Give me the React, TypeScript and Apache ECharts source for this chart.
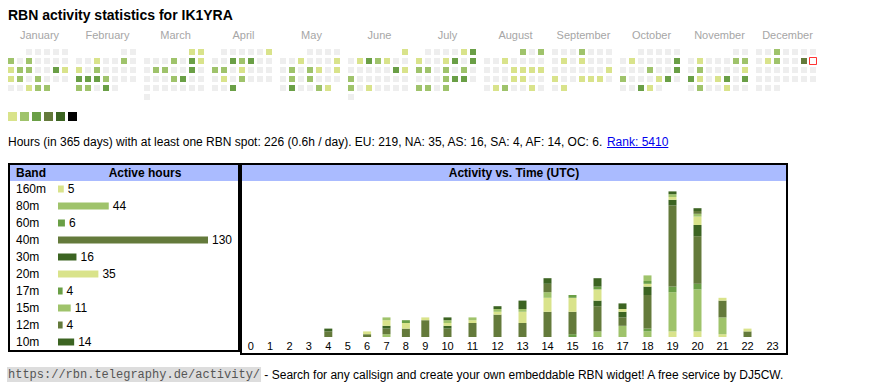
import { useEffect, useRef } from 'react';
import * as echarts from 'echarts';

const YEAR = 2025;
const TODAY = '2025-12-14';
const monthNames = ['January', 'February', 'March', 'April', 'May', 'June', 'July', 'August', 'September', 'October', 'November', 'December'];
const levelColors = ['#d9e38b', '#9fc36b', '#6a9f46', '#647a3b', '#3c6422', '#000000'];

// activity level per day (0 = none)
const jan = [0, 0, 0, 0, 0, 2, 0, 2, 0, 0, 0, 0, 1, 2, 2, 0, 0, 3, 1, 1, 2, 0, 2, 0, 0, 0, 0, 0, 1, 2, 2];
const feb = [0, 0, 0, 0, 1, 0, 0, 2, 0, 1, 0, 2, 0, 0, 0, 0, 3, 3, 3, 2, 0, 0, 0, 2, 2, 0, 3, 0];
const mar = [1, 1, 0, 0, 0, 2, 0, 3, 1, 0, 2, 2, 0, 0, 3, 0, 0, 0, 0, 2, 3, 0, 0, 0, 0, 0, 0, 0, 0, 0, 0];
const apr = [0, 0, 0, 0, 0, 1, 0, 0, 3, 2, 3, 0, 0, 2, 2, 0, 1, 0, 0, 0, 0, 1, 0, 2, 0, 0, 0, 0, 0, 3];
const may = [0, 0, 0, 0, 0, 0, 1, 0, 0, 0, 1, 0, 2, 0, 2, 1, 0, 1, 0, 2, 0, 2, 0, 0, 0, 0, 3, 0, 0, 2, 1];
const jun = [1, 0, 1, 3, 2, 1, 0, 0, 0, 0, 0, 0, 0, 3, 1, 2, 0, 0, 0, 0, 0, 0, 2, 0, 1, 0, 0, 0, 0, 0];
const jul = [0, 0, 0, 0, 1, 3, 1, 0, 0, 1, 3, 0, 3, 2, 2, 0, 2, 0, 2, 0, 0, 0, 0, 2, 3, 3, 0, 2, 2, 0, 2];
const aug = [2, 0, 2, 0, 0, 1, 0, 0, 0, 0, 0, 0, 0, 1, 1, 1, 1, 0, 0, 0, 1, 1, 0, 0, 0, 1, 2, 0, 0, 1, 0];
const sep = [0, 0, 0, 2, 0, 0, 0, 0, 1, 0, 1, 0, 0, 0, 0, 0, 0, 0, 0, 0, 1, 1, 0, 0, 1, 1, 1, 0, 0, 1];
const oct = [0, 0, 0, 0, 0, 0, 1, 0, 0, 0, 0, 3, 0, 0, 0, 2, 0, 0, 3, 2, 0, 0, 0, 1, 3, 0, 0, 0, 3, 1, 0];
const nov = [0, 0, 0, 1, 0, 0, 0, 2, 2, 0, 2, 0, 0, 0, 0, 1, 3, 1, 0, 1, 3, 0, 3, 0, 2, 0, 0, 1, 0, 0];
const dec = [0, 0, 2, 0, 0, 0, 0, 0, 1, 2, 0, 0, 4, 0, 0, 0, 0, 0, 0, 0, 0, 0, 0, 0, 0, 0, 0, 0, 0, 0, 0];
const months = [jan, feb, mar, apr, may, jun, jul, aug, sep, oct, nov, dec];

const bands = ['160m', '80m', '60m', '40m', '30m', '20m', '17m', '15m', '12m', '10m'];
const bandHours = [5, 44, 6, 130, 16, 35, 4, 11, 4, 14];
const bandColors = ['#d9e38b', '#9fc36b', '#6a9f46', '#647a3b', '#3c6422', '#d9e38b', '#6a9f46', '#9fc36b', '#647a3b', '#3c6422'];

const hourLabels = ['0', '1', '2', '3', '4', '5', '6', '7', '8', '9', '10', '11', '12', '13', '14', '15', '16', '17', '18', '19', '20', '21', '22', '23'];
const act160m = [0, 0, 0, 0, 0, 0, 0, 0, 0, 0, 0, 0, 0, 0, 0, 0, 0, 0, 0, 2, 2, 1, 0, 0];
const act80m = [0, 0, 0, 0, 0, 0, 0, 1, 0, 0, 0, 0, 0, 0, 0, 0, 2, 4, 2, 14, 15, 6, 0, 0];
const act60m = [0, 0, 0, 0, 0, 0, 0, 0, 0, 0, 0, 0, 0, 0, 0, 1, 0, 0, 1, 2, 2, 0, 0, 0];
const act40m = [0, 0, 0, 0, 2, 0, 1, 2, 3, 6, 3, 5, 8, 5, 9, 8, 9, 3, 12, 29, 17, 6, 2, 0];
const act30m = [0, 0, 0, 0, 1, 0, 0, 1, 0, 0, 1, 0, 0, 0, 0, 0, 2, 2, 3, 2, 4, 0, 0, 0];
const act20m = [0, 0, 0, 0, 0, 0, 1, 2, 2, 1, 1, 1, 1, 4, 5, 5, 4, 1, 1, 1, 3, 1, 1, 0];
const act17m = [0, 0, 0, 0, 0, 0, 0, 0, 1, 0, 0, 0, 0, 0, 0, 1, 1, 0, 1, 0, 0, 0, 0, 0];
const act15m = [0, 0, 0, 0, 0, 0, 0, 1, 0, 0, 1, 1, 1, 1, 2, 0, 0, 0, 2, 1, 1, 0, 0, 0];
const act12m = [0, 0, 0, 0, 0, 0, 0, 0, 0, 0, 0, 0, 0, 0, 3, 0, 0, 0, 0, 0, 1, 0, 0, 0];
const act10m = [0, 0, 0, 0, 0, 0, 0, 0, 0, 0, 1, 0, 1, 3, 2, 0, 3, 2, 0, 1, 1, 0, 0, 0];
const activity = [act160m, act80m, act60m, act40m, act30m, act20m, act17m, act15m, act12m, act10m];

const summaryText = 'Hours (in 365 days) with at least one RBN spot: 226 (0.6h / day). EU: 219, NA: 35, AS: 16, SA: 4, AF: 14, OC: 6. ';
const rankText = 'Rank: 5410';
const footerUrl = 'https://rbn.telegraphy.de/activity/';
const footerText = ' - Search for any callsign and create your own embeddable RBN widget! A free service by DJ5CW.';

const FONT = '"Liberation Sans", Arial, Helvetica, sans-serif';
const MONO = '"Liberation Mono", "DejaVu Sans Mono", monospace';

const pad = (n: number) => (n < 10 ? '0' + n : '' + n);

function measure(text: string, font: string): number {
  const ctx = document.createElement('canvas').getContext('2d');
  if (!ctx) return text.length * 6;
  ctx.font = font;
  return ctx.measureText(text).width;
}

function txt(text: string, x: number, y: number, opts: any = {}) {
  return {
    type: 'text',
    x,
    y,
    z: opts.z ?? 10,
    silent: true,
    style: {
      text,
      fill: opts.fill ?? '#000',
      fontSize: opts.fontSize ?? 12,
      fontWeight: opts.fontWeight ?? 'normal',
      fontFamily: opts.fontFamily ?? FONT,
      align: opts.align ?? 'left',
      verticalAlign: 'middle',
      textAlign: opts.align ?? 'left',
      textVerticalAlign: 'middle',
    },
  };
}

export default function App() {
  const ref = useRef<HTMLDivElement>(null);

  useEffect(() => {
    document.body.style.margin = '0';
    const chart = echarts.init(ref.current as HTMLDivElement, null, { renderer: 'svg' });

    const calendars = months.map((_, m) => ({
      orient: 'vertical',
      range: `${YEAR}-${pad(m + 1)}`,
      cellSize: [9, 9],
      left: 6.5 + 68 * m,
      top: 47.5,
      splitLine: { show: false },
      itemStyle: { color: '#eeeeee', borderColor: '#ffffff', borderWidth: 3 },
      dayLabel: { show: false, firstDay: 1 },
      monthLabel: { show: false },
      yearLabel: { show: false },
      silent: true,
    }));

    const heatSeries = months.map((vals, m) => ({
      type: 'heatmap',
      coordinateSystem: 'calendar',
      calendarIndex: m,
      data: vals
        .map((v, d) => [`${YEAR}-${pad(m + 1)}-${pad(d + 1)}`, v])
        .filter((p) => (p[1] as number) > 0),
      itemStyle: { borderWidth: 0 },
      emphasis: { disabled: true },
      silent: true,
    }));

    const todaySeries = {
      type: 'scatter',
      coordinateSystem: 'calendar',
      calendarIndex: 11,
      data: [[TODAY, 1]],
      symbol: 'rect',
      symbolSize: 7,
      itemStyle: { color: '#ffffff', borderColor: '#ff0000', borderWidth: 1 },
      silent: true,
      z: 5,
    };

    const bandSeries = {
      type: 'bar',
      xAxisIndex: 0,
      yAxisIndex: 0,
      data: bandHours.map((v, i) => ({ value: v, itemStyle: { color: bandColors[i] } })),
      barWidth: 7,
      label: { show: true, position: 'right', distance: 4, fontSize: 12, color: '#000', fontFamily: FONT },
      silent: true,
    };

    const actSeries: any[] = [];
    [1, 2].forEach((g) => {
      activity.forEach((vals, b) => {
        actSeries.push({
          type: 'bar',
          name: bands[b],
          xAxisIndex: g,
          yAxisIndex: g,
          stack: 'hours' + g,
          data: g === 1 ? vals.slice(0, 10) : vals.slice(10),
          barWidth: 8,
          itemStyle: { color: bandColors[b] },
          silent: true,
        });
      });
    });

    const hourAxis = (g: number, data: string[]) => ({
      gridIndex: g,
      type: 'category',
      data,
      axisLine: { show: false },
      axisTick: { show: false },
      splitLine: { show: false },
      axisLabel: { fontSize: 11, color: '#000', margin: 3, fontFamily: FONT, interval: 0 },
    });

    const summaryW = measure(summaryText, `12px ${FONT}`);
    const rankW = measure(rankText, `12px ${FONT}`);
    const urlW = measure(footerUrl, `12px ${MONO}`);

    const graphics: any[] = [
      txt('RBN activity statistics for IK1YRA', 8, 15, { fontSize: 14, fontWeight: 'bold' }),
      ...monthNames.map((n, m) => txt(n, 8 + 68 * m + 31.5, 35, { fontSize: 11, fill: '#a6a6a6', align: 'center' })),
      txt(summaryText, 8, 142),
      txt(rankText, 8 + summaryW, 142, { fill: '#0000ee' }),
      {
        type: 'line',
        silent: true,
        z: 10,
        shape: { x1: 8 + summaryW, y1: 147.5, x2: 8 + summaryW + rankW, y2: 147.5 },
        style: { stroke: '#0000ee', lineWidth: 1 },
      },
      // band table
      { type: 'rect', silent: true, z: 1, shape: { x: 10, y: 165, width: 228, height: 16 }, style: { fill: '#aabbff' } },
      txt('Band', 16, 173, { fontWeight: 'bold' }),
      txt('Active hours', 145, 173, { fontWeight: 'bold', align: 'center' }),
      { type: 'rect', silent: true, z: 50, shape: { x: 9, y: 164, width: 230, height: 187 }, style: { fill: 'none', stroke: '#000', lineWidth: 2 } },
      // activity chart
      { type: 'rect', silent: true, z: 1, shape: { x: 242, y: 165, width: 544, height: 16 }, style: { fill: '#aabbff' } },
      txt('Activity vs. Time (UTC)', 514, 173, { fontWeight: 'bold', align: 'center' }),
      { type: 'rect', silent: true, z: 50, shape: { x: 241, y: 164, width: 546, height: 190 }, style: { fill: 'none', stroke: '#000', lineWidth: 2 } },
      // footer
      { type: 'rect', silent: true, z: 1, shape: { x: 7, y: 367, width: urlW + 2, height: 15 }, style: { fill: '#dddddd' } },
      txt(footerUrl, 8, 374.5, { fontFamily: MONO, fill: '#555555' }),
      txt(footerText, 9 + urlW, 374.5),
    ];

    const option: any = {
      animation: false,
      backgroundColor: '#ffffff',
      calendar: calendars,
      visualMap: {
        type: 'piecewise',
        seriesIndex: heatSeries.map((_, i) => i),
        pieces: levelColors.map((c, i) => ({ value: i + 1, color: c })),
        orient: 'horizontal',
        left: 8,
        top: 112,
        itemWidth: 9,
        itemHeight: 9,
        itemGap: 3,
        itemSymbol: 'rect',
        showLabel: false,
        selectedMode: false,
        hoverLink: false,
        padding: 0,
      },
      grid: [
        { left: 58, top: 180.5, width: 150, height: 170 },
        { left: 241, top: 183, width: 194, height: 154 },
        { left: 435, top: 183, width: 350, height: 154 },
      ],
      xAxis: [
        { gridIndex: 0, type: 'value', min: 0, max: 130, show: false },
        hourAxis(1, hourLabels.slice(0, 10)),
        hourAxis(2, hourLabels.slice(10)),
      ],
      yAxis: [
        {
          gridIndex: 0,
          type: 'category',
          data: bands,
          inverse: true,
          axisLine: { show: false },
          axisTick: { show: false },
          splitLine: { show: false },
          axisLabel: { align: 'left', margin: 42, fontSize: 12, color: '#000', fontFamily: FONT, interval: 0 },
        },
        { gridIndex: 1, type: 'value', min: 0, max: 55, show: false },
        { gridIndex: 2, type: 'value', min: 0, max: 55, show: false },
      ],
      series: [...heatSeries, todaySeries, bandSeries, ...actSeries],
      graphic: { elements: graphics },
    };

    chart.setOption(option);
    return () => chart.dispose();
  }, []);

  return <div ref={ref} style={{ position: 'absolute', left: 0, top: 0, width: 870, height: 390 }} />;
}
